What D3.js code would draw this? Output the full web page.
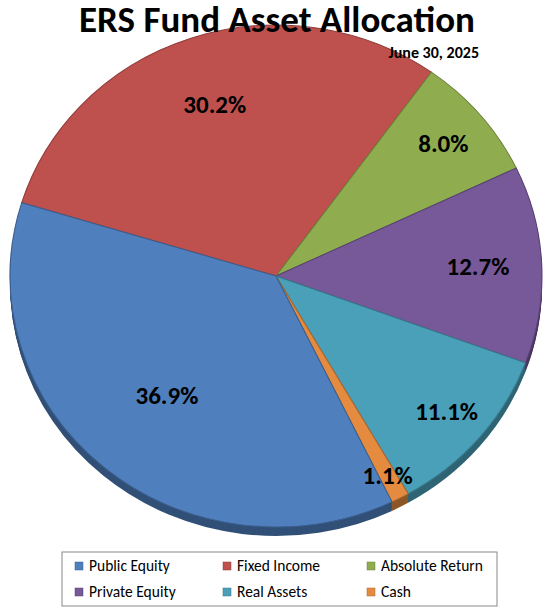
<!DOCTYPE html>
<html>
<head>
<meta charset="utf-8">
<script src="https://cdn.jsdelivr.net/npm/d3@7"></script>
<style>
  body { margin: 0; background: #fff; }
  svg { font-family: Calibri, Carlito, Lato, "Liberation Sans", Arial, sans-serif; }
</style>
</head>
<body>
<svg width="550" height="616"></svg>
<script>
// Data
const categories = ["Fixed Income", "Absolute Return", "Private Equity", "Real Assets", "Cash", "Public Equity"];
const values = [30.2, 8.0, 12.7, 11.1, 1.1, 36.9];
const legendOrder = ["Public Equity", "Fixed Income", "Absolute Return", "Private Equity", "Real Assets", "Cash"];

// Colours
const COLORS = {
    "Public Equity": "#4F7FBD",
    "Fixed Income": "#BE504D",
    "Absolute Return": "#8FAD4F",
    "Private Equity": "#77599A",
    "Real Assets": "#4AA0B8",
    "Cash": "#E48B3F"
};
// Where each label sits, as a fraction of the radius
const labelFrac = [0.72, 0.82, 0.76, 0.84, 0.9, 0.63];

const svg = d3.select("svg");
const cx = 276, cy = 276, rx = 266, ry = 251, depth = 9;

const pie = d3.pie().sort(null).value(d => d)
    .startAngle(-73 * Math.PI / 180)
    .endAngle((360 - 73) * Math.PI / 180);
const arcs = pie(values);
const arc = d3.arc().innerRadius(0).outerRadius(1);

// Pie drawn on a unit circle and stretched to the ellipse
const g = svg.append("g");

// Side (3D depth)
for (let i = depth; i >= 1; i--) {
    g.append("g")
        .attr("transform", `translate(${cx},${cy + i}) scale(${rx},${ry})`)
        .selectAll("path")
        .data(arcs)
        .enter()
        .append("path")
        .attr("d", arc)
        .attr("fill", (d, j) => d3.color(COLORS[categories[j]]).darker(1.3));
}

// Top face
g.append("g")
    .attr("transform", `translate(${cx},${cy}) scale(${rx},${ry})`)
    .selectAll("path")
    .data(arcs)
    .enter()
    .append("path")
    .attr("d", arc)
    .attr("fill", (d, j) => COLORS[categories[j]])
    .attr("stroke", (d, j) => d3.color(COLORS[categories[j]]).darker(0.8))
    .attr("stroke-width", 0.004);

// Labels
svg.append("g")
    .selectAll("text")
    .data(arcs)
    .enter()
    .append("text")
    .attr("x", (d, j) => cx + labelFrac[j] * rx * Math.sin((d.startAngle + d.endAngle) / 2))
    .attr("y", (d, j) => cy - labelFrac[j] * ry * Math.cos((d.startAngle + d.endAngle) / 2) + 8)
    .attr("text-anchor", "middle")
    .attr("font-size", 25)
    .attr("font-weight", "bold")
    .text(d => d.value.toFixed(1) + "%");

// Title
svg.append("text")
    .attr("x", 277).attr("y", 32)
    .attr("text-anchor", "middle")
    .attr("font-size", 37)
    .attr("font-weight", "bold")
    .text("ERS Fund Asset Allocation");
svg.append("text")
    .attr("x", 479).attr("y", 58)
    .attr("text-anchor", "end")
    .attr("font-size", 16)
    .attr("font-weight", "bold")
    .text("June 30, 2025");

// Legend
svg.append("rect")
    .attr("x", 62).attr("y", 552)
    .attr("width", 435).attr("height", 54)
    .attr("fill", "#fff").attr("stroke", "#888");
const legend = svg.append("g")
    .selectAll("g")
    .data(legendOrder)
    .enter()
    .append("g")
    .attr("transform", (d, i) => `translate(${[75, 223, 367][i % 3]},${i < 3 ? 566 : 592})`);
legend.append("rect")
    .attr("x", 0).attr("y", -4)
    .attr("width", 8).attr("height", 8)
    .attr("fill", d => COLORS[d])
    .attr("stroke", d => d3.color(COLORS[d]).darker(0.8))
    .attr("stroke-width", 0.5);
legend.append("text")
    .attr("x", 14).attr("y", 5)
    .attr("font-size", 15.5)
    .text(d => d);
</script>
</body>
</html>
